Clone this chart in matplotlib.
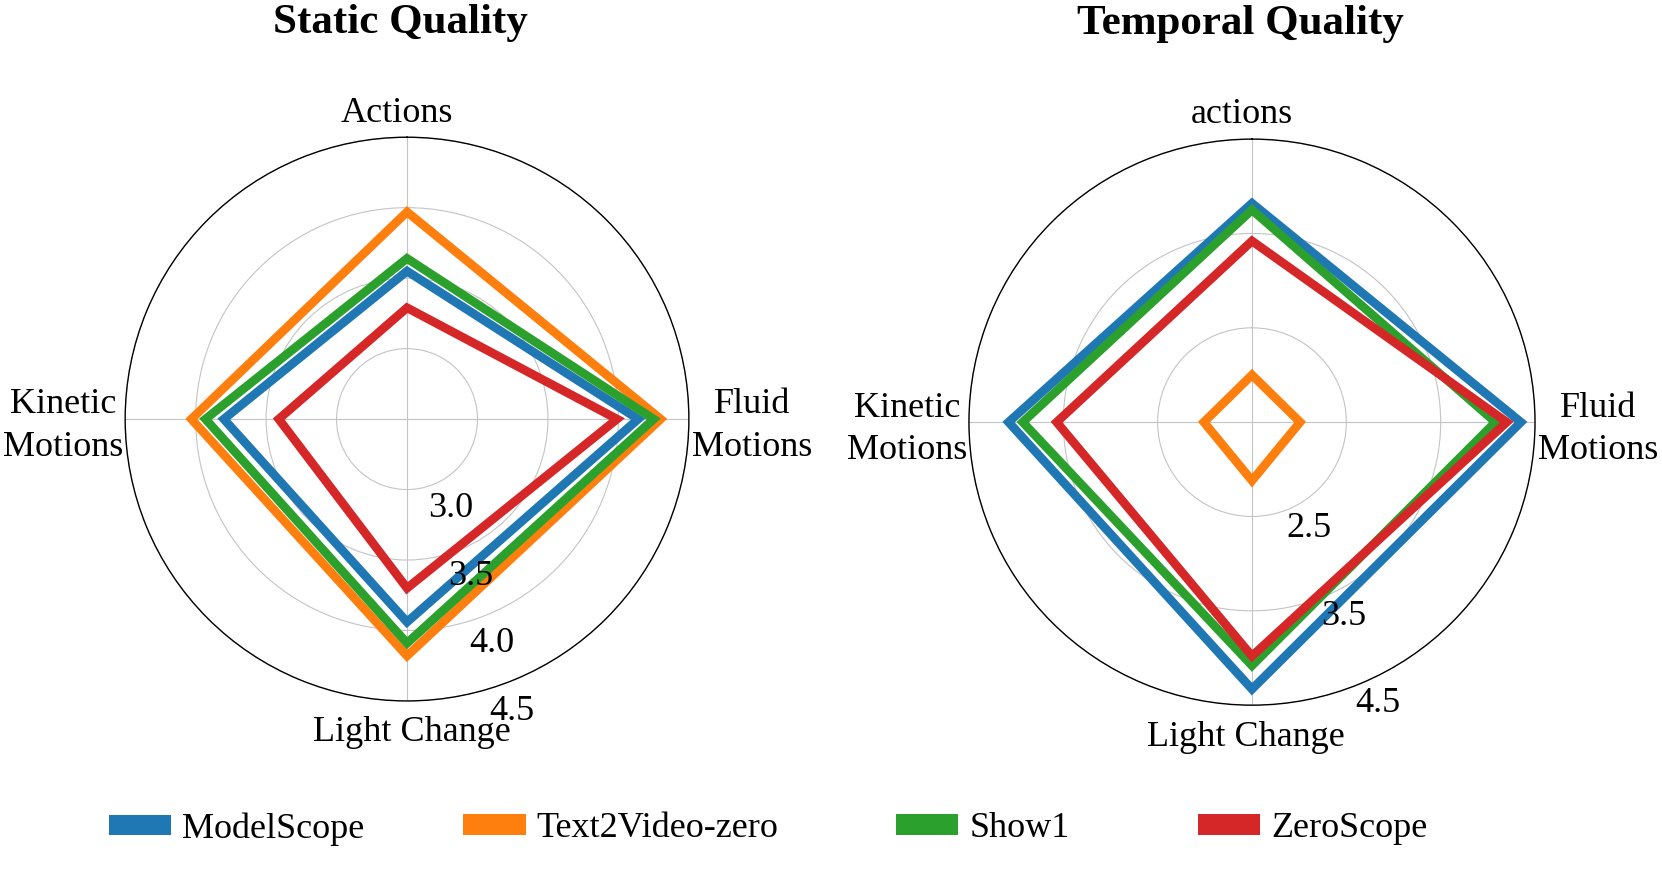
import numpy as np
import matplotlib
matplotlib.use("Agg")
import matplotlib.pyplot as plt
from matplotlib.patches import Patch

plt.rcParams['font.family'] = ['Liberation Serif', 'DejaVu Serif']

models = ['ModelScope', 'Text2Video-zero', 'Show1', 'ZeroScope']
colors = ['#1f77b4', '#ff7f0e', '#2ca02c', '#d62728']

# order: top, right, bottom, left
static_labels = ['Actions', 'Fluid\nMotions', 'Light Change', 'Kinetic\nMotions']
temporal_labels = ['actions', 'Fluid\nMotions', 'Light Change', 'Kinetic\nMotions']

static_modelscope = [3.55, 4.14, 3.94, 3.80]
static_t2v_zero = [3.97, 4.30, 4.18, 4.03]
static_show1 = [3.64, 4.25, 4.09, 3.93]
static_zeroscope = [3.29, 3.99, 3.70, 3.41]

temporal_modelscope = [3.82, 4.35, 4.33, 4.08]
temporal_t2v_zero = [2.00, 2.01, 2.12, 2.01]
temporal_show1 = [3.75, 4.08, 4.08, 3.93]
temporal_zeroscope = [3.42, 4.20, 3.98, 3.57]

static_rticks = [3.0, 3.5, 4.0, 4.5]
temporal_rticks = [2.5, 3.5, 4.5]


def draw_radar(ax, labels, series, rmin, rticks, rlabel_pos, rlabel_dy,
               title, title_x, bottom_dx):
    angles = np.linspace(0, 2 * np.pi, len(labels), endpoint=False)
    ax.set_theta_offset(np.pi / 2)
    ax.set_theta_direction(-1)
    for vals, c in zip(series, colors):
        ax.fill(angles, vals, facecolor='none', edgecolor=c, lw=6.3,
                joinstyle='miter', zorder=3)
    rmax = 4.5
    ax.set_ylim(rmin, rmax)
    ax.set_yticks(rticks)
    ax.set_yticklabels([])
    # radial labels on top of the lines
    for r in rticks:
        ax.annotate(f'{r:.1f}', xy=(np.deg2rad(rlabel_pos), r), xytext=(0, rlabel_dy),
                    textcoords='offset pixels', ha='left', va='top',
                    fontsize=26, zorder=5, annotation_clip=False)
    ax.set_xticks(angles)
    ax.set_xticklabels([])
    # label placement around the circle (offset in pixels, alignment)
    label_style = [((-10.5, 15.7), 'center', 'baseline'),
                   ((3, -7), 'left', 'center'),
                   ((bottom_dx, -40.5), 'center', 'baseline'),
                   ((-1.5, -7), 'right', 'center')]
    for ang, text, (off, ha, va) in zip(angles, labels, label_style):
        ax.annotate(text, xy=(ang, rmax), xytext=off, textcoords='offset pixels',
                    ha=ha, va=va, fontsize=26, linespacing=1.37,
                    multialignment='center', annotation_clip=False)
    ax.grid(color='#c4c4c4', lw=0.8)
    ax.spines['polar'].set_color('black')
    ax.spines['polar'].set_linewidth(1.0)
    ax.set_title(title, fontsize=31, fontweight='bold', x=title_x, y=1.1855, pad=0)


fig = plt.figure(figsize=(16.62, 8.74), dpi=100)
ax1 = fig.add_axes([0.0752, 0.198, 0.3394, 0.645], projection='polar')
ax2 = fig.add_axes([0.583, 0.193, 0.3406, 0.648], projection='polar')

draw_radar(ax1, static_labels,
           [static_modelscope, static_t2v_zero, static_show1, static_zeroscope],
           2.5, static_rticks, 163, -6, 'Static Quality', 0.488, 5)
draw_radar(ax2, temporal_labels,
           [temporal_modelscope, temporal_t2v_zero, temporal_show1, temporal_zeroscope],
           1.5, temporal_rticks, 158.5, -2, 'Temporal Quality', 0.479, -6)

# legend entries sit at uneven spacing in the original
legend_x = [0.0656, 0.2786, 0.5391, 0.7208]
for m, c, x in zip(models, colors, legend_x):
    fig.legend(handles=[Patch(facecolor=c, edgecolor='none', label=m)],
               loc='center left', bbox_to_anchor=(x, 0.0515), frameon=False,
               fontsize=26, handlelength=1.73, handleheight=0.49,
               handletextpad=0.3, borderpad=0, borderaxespad=0)

fig.savefig('out.png', dpi=100, facecolor='white')
